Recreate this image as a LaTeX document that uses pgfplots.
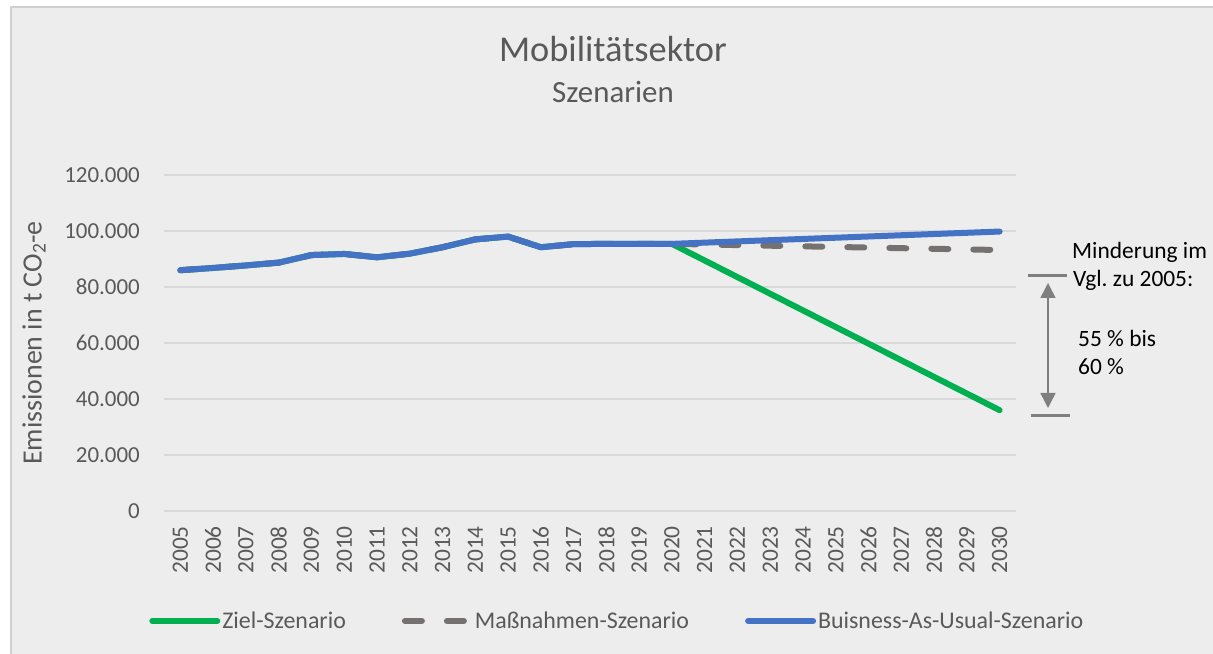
\documentclass[border=0pt]{standalone}
\usepackage{pgfplots}
\pgfplotsset{compat=1.18}
\usepackage{fontspec}
\setmainfont{Carlito}
\usetikzlibrary{arrows.meta}
\frenchspacing
\definecolor{bg}{HTML}{EDEDED}
\definecolor{bord}{HTML}{D0D0D0}
\definecolor{txt}{HTML}{595959}
\definecolor{gridc}{HTML}{D9D9D9}
\definecolor{zielc}{HTML}{00B050}
\definecolor{massc}{HTML}{767171}
\definecolor{bauc}{HTML}{4472C4}
\definecolor{annc}{HTML}{7F7F7F}
\begin{document}
\begin{tikzpicture}[x=1bp,y=1bp]
\useasboundingbox (0,0) rectangle (1213,654);
\fill[white] (0,0) rectangle (1213,654);
\draw[bord, fill=bg, line width=1.3bp] (11,-10) rectangle (1225,647);
\node[anchor=base, txt, font=\fontsize{36.5}{40}\selectfont] at (613,592) {Mobilitätsektor};
\node[anchor=base, txt, font=\fontsize{31}{34}\selectfont] at (613,551) {Szenarien};
\begin{axis}[
  at={(164bp,143bp)}, anchor=south west,
  scale only axis, width=852bp, height=336bp,
  xmin=2004.5, xmax=2030.5, ymin=0, ymax=120000,
  xtick={2005,2006,...,2030},
  ytick={0,20000,...,120000},
  major tick length=0pt,
  axis line style={draw=none},
  ymajorgrids, major grid style={gridc, line width=1.3bp},
  /pgf/number format/assume math mode=true,
  /pgf/number format/fixed,
  /pgf/number format/precision=0,
  /pgf/number format/1000 sep={.},
  scaled y ticks=false,
  scaled x ticks=false,
  tick label style={txt, font=\fontsize{23}{26}\selectfont},
  yticklabel style={anchor=east, inner sep=0pt, xshift=-24bp},
  xticklabel style={rotate=90, anchor=east, inner sep=0pt, xshift=-15bp, font=\fontsize{23.5}{26}\selectfont, /pgf/number format/1000 sep={}},
  ylabel={Emissionen in t CO\textsubscript{2}-e},
  every axis y label/.style={at={(axis description cs:0,0.5)}, rotate=90, anchor=center, yshift=130bp, txt, font=\fontsize{28}{30}\selectfont},
  clip=false,
  legend columns=3,
  legend style={at={(axis description cs:0.532,-0.327)}, anchor=center, draw=none, fill=none,
    font=\fontsize{24}{27}\selectfont, text=txt,
    /tikz/every even column/.append style={column sep=54bp}},
  legend image code/.code={\draw[#1] (0bp,0bp) -- (65bp,0bp);},
  legend cell align=left,
]
\addplot[zielc, line width=6bp, line cap=round] coordinates {
(2005,86000)(2006,86800)(2007,87700)(2008,88700)(2009,91400)(2010,91800)(2011,90600)(2012,91900)(2013,94200)(2014,97000)(2015,98000)(2016,94200)(2017,95300)(2018,95400)(2019,95400)(2020,95400)
(2021,89460)(2022,83520)(2023,77580)(2024,71640)(2025,65700)(2026,59760)(2027,53820)(2028,47880)(2029,41940)(2030,36000)};
\addlegendentry{Ziel-Szenario}
\addplot[massc, line width=6bp, line cap=round, dash pattern=on 17bp off 25bp] coordinates {
(2005,86000)(2006,86800)(2007,87700)(2008,88700)(2009,91400)(2010,91800)(2011,90600)(2012,91900)(2013,94200)(2014,97000)(2015,98000)(2016,94200)(2017,95300)(2018,95400)(2019,95400)(2020,95400)
(2021,95180)(2022,94960)(2023,94740)(2024,94520)(2025,94300)(2026,94080)(2027,93860)(2028,93640)(2029,93420)(2030,93200)};
\addlegendentry{Maßnahmen-Szenario}
\addplot[bauc, line width=6bp, line cap=round, line join=round] coordinates {
(2005,86000)(2006,86800)(2007,87700)(2008,88700)(2009,91400)(2010,91800)(2011,90600)(2012,91900)(2013,94200)(2014,97000)(2015,98000)(2016,94200)(2017,95300)(2018,95400)(2019,95400)(2020,95400)
(2021,95840)(2022,96280)(2023,96720)(2024,97160)(2025,97600)(2026,98040)(2027,98480)(2028,98920)(2029,99360)(2030,99800)};
\addlegendentry{Buisness-As-Usual-Szenario}
\end{axis}
\draw[annc, line width=3bp] (1028,378) -- (1067,378);
\draw[annc, line width=3bp] (1031,238) -- (1070,238);
\draw[annc, line width=1.5bp, {Triangle[width=15bp,length=15bp]}-{Triangle[width=15bp,length=15bp]}] (1048,371) -- (1048,246);
\begin{scope}[font=\fontsize{23.5}{26}\selectfont]
\node[anchor=base west, inner sep=0pt] at (1072,395) {Minderung im};
\node[anchor=base west, inner sep=0pt] at (1073,367) {Vgl. zu 2005:};
\node[anchor=base west, inner sep=0pt] at (1078,307) {55 \% bis};
\node[anchor=base west, inner sep=0pt] at (1078,279) {60 \%};
\end{scope}
\end{tikzpicture}
\end{document}
